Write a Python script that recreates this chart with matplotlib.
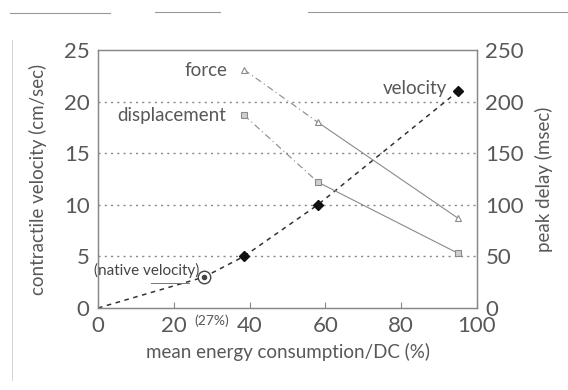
import matplotlib
matplotlib.use("Agg")
import matplotlib.pyplot as plt
from matplotlib.lines import Line2D

# Data
vel_x = [0, 28, 38.5, 58, 95]
vel_y = [0, 3, 5, 10, 21]
native_x = 28
native_y = 3
marker_x = [38.5, 58, 95]
marker_y = [5, 10, 21]
force_x = [38.5, 58, 95]
force_y = [231, 180, 87]
disp_x = [38.5, 58, 95]
disp_y = [187, 122, 53]
xticks = [0, 20, 40, 60, 80, 100]
yticks_left = [0, 5, 10, 15, 20, 25]
yticks_right = [0, 50, 100, 150, 200, 250]

plt.rcParams['font.family'] = ['Lato', 'DejaVu Sans']
tc = '#585858'
FW = 'normal'

fig = plt.figure(figsize=(5.68, 3.90), dpi=100)
ax = fig.add_axes([98/568, 1-308/390, (477-98)/568, (308-50)/390])
ax2 = ax.twinx()

ax.set_xlim(0, 100)
ax.set_ylim(0, 25)
ax2.set_ylim(0, 250)

for g in [5, 10, 15, 20]:
    ax.axhline(g, color='#888888', ls=(0, (1.5, 3)), lw=1.0, zorder=0)

ax2.plot(force_x[:2], force_y[:2], color='#8a8a8a', lw=0.8, ls=(0, (6, 3, 1, 3)))
ax2.plot(force_x[1:], force_y[1:], color='#8a8a8a', lw=0.8, ls='-')
ax2.plot(disp_x[:2], disp_y[:2], color='#8a8a8a', lw=0.8, ls=(0, (6, 3, 1, 3)))
ax2.plot(disp_x[1:], disp_y[1:], color='#8a8a8a', lw=0.8, ls='-')
ax2.plot(force_x, force_y, ls='none', marker='^', ms=5, mfc='white', mec='#8a8a8a', mew=0.8)
ax2.plot(disp_x, disp_y, ls='none', marker='s', ms=5, mfc='#cfcfcf', mec='#8a8a8a', mew=0.8)

ax.plot(vel_x, vel_y, color='#333333', lw=1.1, ls=(0, (3, 3)))
ax.plot(marker_x, marker_y, ls='none', marker='D', ms=5, color='#111111')
ax.plot([native_x], [native_y], ls='none', marker='o', ms=9, mfc='white', mec='#444444', mew=1.0)
ax.plot([native_x], [native_y], ls='none', marker='o', ms=3, mfc='#444444', mec='#444444')

ax.text(28.5, 23.0, 'force', fontsize=13.5, color=tc, ha='center', va='center', weight=FW)
ax.text(19.5, 18.7, 'displacement', fontsize=13.5, color=tc, ha='center', va='center', weight=FW)
ax.text(92, 21.3, 'velocity', fontsize=13.5, color=tc, ha='right', va='center', weight=FW)
ax.text(12.8, 3.6, '(native velocity)', fontsize=11, color='#444444', ha='center', va='center', weight=FW)
ax.plot([14, 24], [2.45, 2.45], color='#777777', lw=0.7)
ax.text(30, -1.2, '(27%)', fontsize=10, color=tc, ha='center', va='center', weight=FW)

for sp in ['left', 'right', 'bottom', 'top']:
    for a in (ax, ax2):
        a.spines[sp].set_color('#888888')
        a.spines[sp].set_linewidth(0.9)

ax.set_xticks(xticks)
ax.set_yticks(yticks_left)
ax2.set_yticks(yticks_right)
ax.tick_params(axis='x', direction='in', length=4, colors='#888888', labelcolor=tc, labelsize=16, pad=6)
ax.tick_params(axis='y', direction='in', length=0, labelcolor=tc, labelsize=16, pad=6)
ax2.tick_params(axis='y', direction='in', length=0, labelcolor=tc, labelsize=16, pad=6)

ax.set_xlabel('mean energy consumption/DC (%)', fontsize=13.5, color=tc, labelpad=5, weight=FW)
ax.set_ylabel('contractile velocity (cm/sec)', fontsize=13.5, color=tc, labelpad=12, weight=FW)
ax2.set_ylabel('peak delay (msec)', fontsize=13.5, color=tc, labelpad=8, weight=FW)

fig.add_artist(Line2D([10/568, 110/568], [1-13/390, 1-13/390], color='#999999', lw=0.8))
fig.add_artist(Line2D([155/568, 220/568], [1-12/390, 1-12/390], color='#999999', lw=0.8))
fig.add_artist(Line2D([308/568, 568/568], [1-12/390, 1-12/390], color='#999999', lw=0.8))
fig.add_artist(Line2D([12/568, 12/568], [1-40/390, 1-380/390], color='#cccccc', lw=0.6))

fig.savefig('out.png', dpi=100)
